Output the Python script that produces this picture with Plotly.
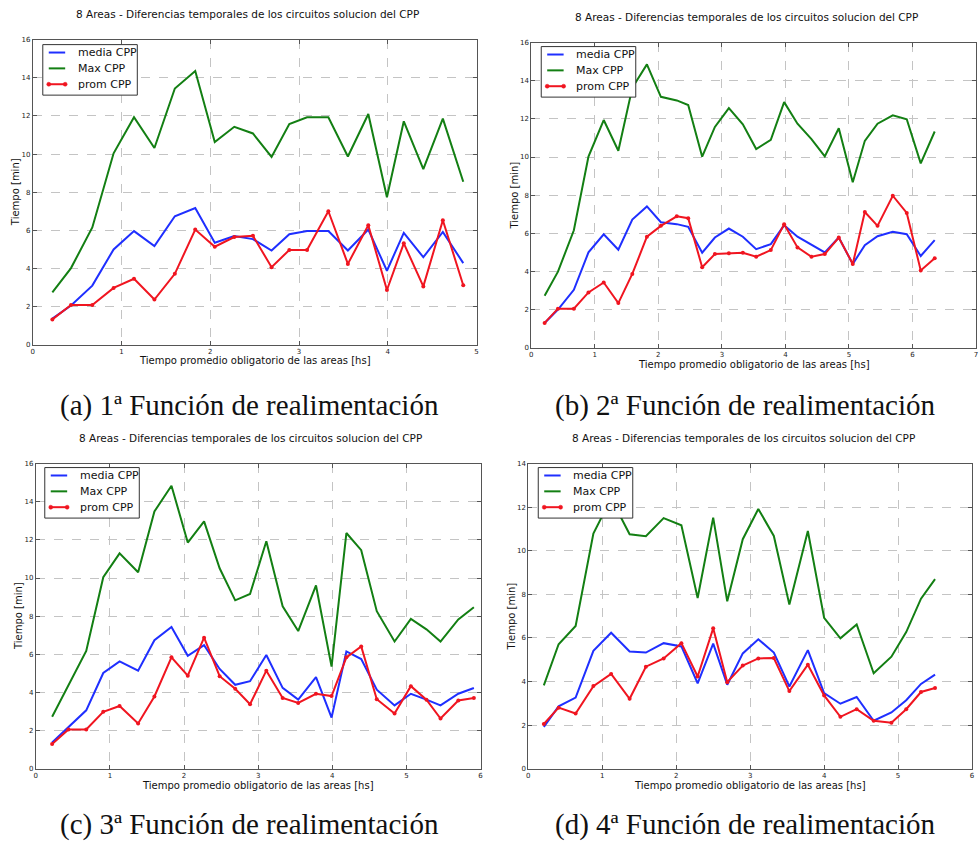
import plotly.graph_objects as go

W, H = 980, 845

# ---------------- data ----------------
x_a = [0.22, 0.43, 0.67, 0.91, 1.14, 1.37, 1.60, 1.83, 2.05, 2.27, 2.48, 2.69, 2.89, 3.09, 3.33, 3.55, 3.78, 3.99, 4.18, 4.40, 4.62, 4.85]
max_a = [2.75, 4.02, 6.15, 10.04, 11.93, 10.32, 13.44, 14.36, 10.63, 11.43, 11.08, 9.85, 11.58, 11.93, 11.93, 9.87, 12.10, 7.74, 11.72, 9.21, 11.86, 8.55]
media_a = [1.37, 2.06, 3.10, 5.00, 5.96, 5.18, 6.74, 7.17, 5.35, 5.70, 5.54, 4.94, 5.80, 5.96, 5.96, 4.94, 6.04, 3.88, 5.87, 4.59, 5.92, 4.28]
prom_a = [1.33, 2.08, 2.08, 2.98, 3.46, 2.37, 3.72, 6.04, 5.14, 5.65, 5.71, 4.07, 4.97, 4.97, 7.00, 4.24, 6.27, 2.87, 5.32, 3.06, 6.53, 3.12]

x_b = [0.21, 0.42, 0.67, 0.90, 1.14, 1.37, 1.59, 1.82, 2.04, 2.29, 2.47, 2.69, 2.89, 3.11, 3.33, 3.54, 3.77, 3.98, 4.19, 4.41, 4.62, 4.84, 5.06, 5.25, 5.45, 5.69, 5.91, 6.13, 6.35]
max_b = [2.73, 3.99, 6.16, 10.02, 11.94, 10.33, 13.63, 14.86, 13.16, 12.97, 12.73, 10.02, 11.58, 12.57, 11.72, 10.42, 10.90, 12.88, 11.75, 10.94, 10.03, 11.51, 8.68, 10.85, 11.75, 12.19, 11.98, 9.67, 11.34]
media_b = [1.30, 2.00, 3.04, 5.00, 5.95, 5.14, 6.72, 7.41, 6.58, 6.48, 6.34, 4.98, 5.78, 6.25, 5.82, 5.17, 5.43, 6.42, 5.82, 5.38, 5.00, 5.78, 4.39, 5.38, 5.85, 6.08, 5.95, 4.81, 5.64]
prom_b = [1.30, 2.05, 2.05, 2.90, 3.42, 2.34, 3.87, 5.82, 6.39, 6.89, 6.79, 4.22, 4.91, 4.95, 4.98, 4.77, 5.12, 6.48, 5.26, 4.77, 4.91, 5.78, 4.39, 7.12, 6.39, 7.97, 7.07, 4.05, 4.69]

x_c = [0.22, 0.44, 0.68, 0.91, 1.13, 1.38, 1.60, 1.83, 2.05, 2.27, 2.48, 2.69, 2.89, 3.11, 3.33, 3.54, 3.78, 3.99, 4.19, 4.39, 4.60, 4.84, 5.06, 5.27, 5.46, 5.70, 5.91]
max_c = [2.72, 4.36, 6.18, 10.04, 11.29, 10.30, 13.49, 14.84, 11.86, 12.97, 10.51, 8.83, 9.16, 11.93, 8.52, 7.22, 9.61, 5.35, 12.36, 11.46, 8.26, 6.67, 7.86, 7.31, 6.67, 7.83, 8.47]
media_c = [1.37, 2.20, 3.06, 5.02, 5.63, 5.14, 6.74, 7.43, 5.92, 6.48, 5.23, 4.40, 4.59, 5.96, 4.24, 3.62, 4.80, 2.68, 6.15, 5.75, 4.14, 3.32, 3.93, 3.62, 3.32, 3.93, 4.23]
prom_c = [1.30, 2.06, 2.06, 2.98, 3.29, 2.37, 3.79, 5.84, 4.88, 6.87, 4.85, 4.19, 3.38, 5.14, 3.71, 3.45, 3.93, 3.81, 5.84, 6.41, 3.64, 2.89, 4.33, 3.62, 2.63, 3.58, 3.71]

x_d = [0.21, 0.41, 0.64, 0.88, 1.12, 1.37, 1.59, 1.83, 2.07, 2.29, 2.50, 2.69, 2.90, 3.11, 3.32, 3.53, 3.78, 4.00, 4.22, 4.44, 4.67, 4.91, 5.11, 5.31, 5.50]
max_d = [3.82, 5.71, 6.55, 10.79, 12.40, 10.76, 10.67, 11.50, 11.17, 7.83, 11.52, 7.68, 10.53, 11.92, 10.68, 7.53, 10.91, 6.92, 5.98, 6.62, 4.38, 5.14, 6.27, 7.80, 8.70]
media_d = [1.92, 2.86, 3.26, 5.41, 6.24, 5.38, 5.33, 5.76, 5.61, 3.92, 5.74, 3.85, 5.29, 5.94, 5.33, 3.77, 5.44, 3.47, 2.98, 3.29, 2.20, 2.58, 3.14, 3.89, 4.32]
prom_d = [2.05, 2.80, 2.53, 3.79, 4.35, 3.21, 4.68, 5.06, 5.76, 4.23, 6.44, 3.97, 4.73, 5.06, 5.08, 3.56, 4.77, 3.36, 2.38, 2.73, 2.20, 2.11, 2.73, 3.52, 3.70]

x_max = [5, 7, 6, 6]
y_max = [16, 16, 16, 14]
series_names = ["media CPP", "Max CPP", "prom CPP"]
title_text = "8 Areas - Diferencias temporales de los circuitos solucion del CPP"
xlabel_text = "Tiempo promedio obligatorio de las areas [hs]"
ylabel_text = "Tiempo [min]"
captions = ["(a) 1ª Función de realimentación", "(b) 2ª Función de realimentación",
            "(c) 3ª Función de realimentación", "(d) 4ª Función de realimentación"]

panels = [
    (x_a, media_a, max_a, prom_a),
    (x_b, media_b, max_b, prom_b),
    (x_c, media_c, max_c, prom_c),
    (x_d, media_d, max_d, prom_d),
]

# ---------------- layout geometry (pixels) ----------------
plot_boxes = [(31, 477, 36, 344), (532, 979, 39, 347), (34, 481, 464, 772), (529, 975, 464, 772)]
title_pos = [(247, 10), (748, 13), (250, 438), (745, 438)]
xlab_pos = [(254, 360), (756, 364), (257, 789), (752, 789)]
ylab_pos = [(13, 190), (515, 193), (16, 618), (512, 618)]
caption_pos = [(249, 405), (747, 405), (249, 828), (747, 828)]
legend_pos = [(41, 41), (542, 43), (43, 468), (539, 468)]
LEG_W, LEG_H = 95, 51
LEG_ROWS = [8, 24, 40]
LEG_LINE = (6, 22.5)
LEG_TEXT = 33

BLUE = "#1f2fff"
GREEN = "#137f13"
RED = "#f01520"
FONT = "DejaVu Sans"
colors = [BLUE, GREEN, RED]


def px(x):
    return x / W


def py(y):
    return 1 - y / H


fig = go.Figure()
annotations = []
shapes = []
layout = {}

for i, (xs, media, mx, prom) in enumerate(panels):
    n = i + 1
    sfx = "" if n == 1 else str(n)
    xa = "x" + sfx
    ya = "y" + sfx
    fig.add_trace(go.Scatter(x=xs, y=media, mode="lines", name=series_names[0], showlegend=False,
                             line=dict(color=BLUE, width=2), xaxis=xa, yaxis=ya))
    fig.add_trace(go.Scatter(x=xs, y=mx, mode="lines", name=series_names[1], showlegend=False,
                             line=dict(color=GREEN, width=2), xaxis=xa, yaxis=ya))
    fig.add_trace(go.Scatter(x=xs, y=prom, mode="lines+markers", name=series_names[2], showlegend=False,
                             line=dict(color=RED, width=2), marker=dict(color=RED, size=4),
                             xaxis=xa, yaxis=ya))
    l, r, t, b = plot_boxes[i]
    axis_common = dict(showline=True, linecolor="#555555", linewidth=1, mirror="ticks",
                       ticks="inside", ticklen=4, tickcolor="#555555",
                       showgrid=True, gridcolor="#c4c4c4", griddash="dash", gridwidth=1,
                       zeroline=False, tickfont=dict(family=FONT, size=7, color="#222222"))
    layout["xaxis" + sfx] = dict(domain=[px(l), px(r)], anchor=ya, range=[0, x_max[i]],
                                 dtick=1, tick0=0, **axis_common)
    layout["yaxis" + sfx] = dict(domain=[py(b), py(t)], anchor=xa, range=[0, y_max[i]],
                                 dtick=2, tick0=0, **axis_common)

    # legend box (drawn manually to match matplotlib's compact legend)
    lx, ly = legend_pos[i]
    shapes.append(dict(type="rect", xref="paper", yref="paper", layer="above",
                       x0=px(lx), x1=px(lx + LEG_W), y0=py(ly + LEG_H), y1=py(ly),
                       fillcolor="white", line=dict(color="#333333", width=1)))
    for k, name in enumerate(series_names):
        ry = ly + LEG_ROWS[k]
        shapes.append(dict(type="line", xref="paper", yref="paper", layer="above",
                           x0=px(lx + LEG_LINE[0]), x1=px(lx + LEG_LINE[1]), y0=py(ry), y1=py(ry),
                           line=dict(color=colors[k], width=2)))
        if k == 2:
            for ex in LEG_LINE:
                cx0 = lx + ex
                shapes.append(dict(type="circle", xref="paper", yref="paper", layer="above",
                                   x0=px(cx0 - 2), x1=px(cx0 + 2), y0=py(ry + 2), y1=py(ry - 2),
                                   fillcolor=RED, line=dict(color=RED, width=0.5)))
        annotations.append(dict(x=px(lx + LEG_TEXT), y=py(ry), xref="paper", yref="paper",
                                text=name, showarrow=False, xanchor="left", yanchor="middle",
                                font=dict(family=FONT, size=11, color="#111111")))

    tx, ty = title_pos[i]
    annotations.append(dict(x=px(tx), y=py(ty), xref="paper", yref="paper", text=title_text,
                            showarrow=False, font=dict(family=FONT, size=10.5, color="#111111"),
                            xanchor="center", yanchor="middle"))
    xx, xy = xlab_pos[i]
    annotations.append(dict(x=px(xx), y=py(xy), xref="paper", yref="paper", text=xlabel_text,
                            showarrow=False, font=dict(family=FONT, size=10, color="#111111"),
                            xanchor="center", yanchor="middle"))
    yx, yy = ylab_pos[i]
    annotations.append(dict(x=px(yx), y=py(yy), xref="paper", yref="paper", text=ylabel_text,
                            showarrow=False, textangle=-90,
                            font=dict(family=FONT, size=10, color="#111111"),
                            xanchor="center", yanchor="middle"))
    cx, cy = caption_pos[i]
    annotations.append(dict(x=px(cx), y=py(cy), xref="paper", yref="paper", text=captions[i],
                            showarrow=False, font=dict(family="Liberation Serif", size=29, color="#111111"),
                            xanchor="center", yanchor="middle"))

fig.update_layout(width=W, height=H, margin=dict(l=0, r=0, t=0, b=0),
                  paper_bgcolor="white", plot_bgcolor="white", showlegend=False,
                  annotations=annotations, shapes=shapes, **layout)

fig.write_html("out.html")
